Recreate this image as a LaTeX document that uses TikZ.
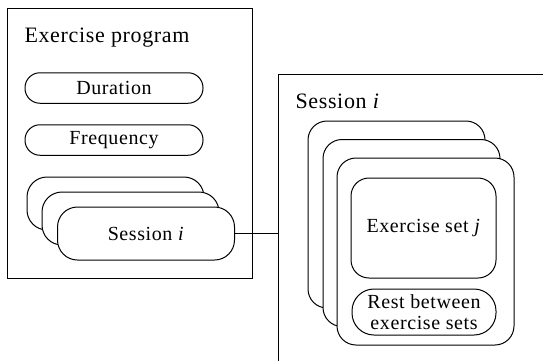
\documentclass[tikz,border=0pt]{standalone}
\usepackage{fontspec}
\setmainfont{Liberation Serif}[LetterSpace=3.0]
\usetikzlibrary{positioning}
\newcommand{\figfont}{\fontsize{20}{21.5}\selectfont}
\newcommand{\titlefont}{\fontsize{22}{24}\selectfont}

\begin{document}
\begin{tikzpicture}[x=1pt, y=-1pt, line width=1pt,
  every node/.style={font=\figfont},
  frame/.style={draw, minimum width=#1},
  framelabel/.style={anchor=base west, inner sep=0pt, font=\titlefont},
  pill/.style={draw, fill=white, rounded corners=15pt,
               minimum width=178pt, minimum height=30.5pt},
  sesspill/.style={draw, fill=white, rounded corners=20pt,
                   minimum width=177pt, minimum height=53pt},
  card/.style={draw, fill=white, rounded corners=19pt,
               minimum width=177pt, minimum height=187pt}]
  \useasboundingbox (0,0) rectangle (543,360);
  \clip (0,0) rectangle (543,360);

  % exercise program
  \node[frame=245pt, minimum height=270pt] (prog) at (129.5,143) {};
  \node[framelabel] (progtitle) at (24,42) {Exercise program};
  \node[pill] (dur) at (114,88) {Duration};
  \node[pill, below=20.5pt of dur] (freq) {Frequency};
  \node[sesspill] (sess1) at (115.5,203.5) {};
  \node[sesspill] (sess2) at (130.5,218.5) {};
  \node[sesspill] (sess3) at (146,233.5) {Session \textit{i}};

  % session i
  \node[frame=282pt, minimum height=306pt] (sessbox) at (419,227) {};
  \node[framelabel] (sesstitle) at (295,108) {Session \textit{i}};
  \node[card] (card1) at (396.5,214.5) {};
  \node[card] (card2) at (411.5,233) {};
  \node[card] (card3) at (425.5,251.5) {};
  \node[draw, rounded corners=18pt, minimum width=145pt,
        minimum height=100pt] (exset) at (423.5,228) {Exercise set \textit{j}};
  \node[draw, rounded corners=22pt, minimum width=144pt,
        minimum height=46pt, inner sep=1pt, align=center] (rest) at (424,312)
    {Rest between\\exercise sets};

  \draw (sess3.east) -- (sess3.east -| sessbox.west);
\end{tikzpicture}
\end{document}
